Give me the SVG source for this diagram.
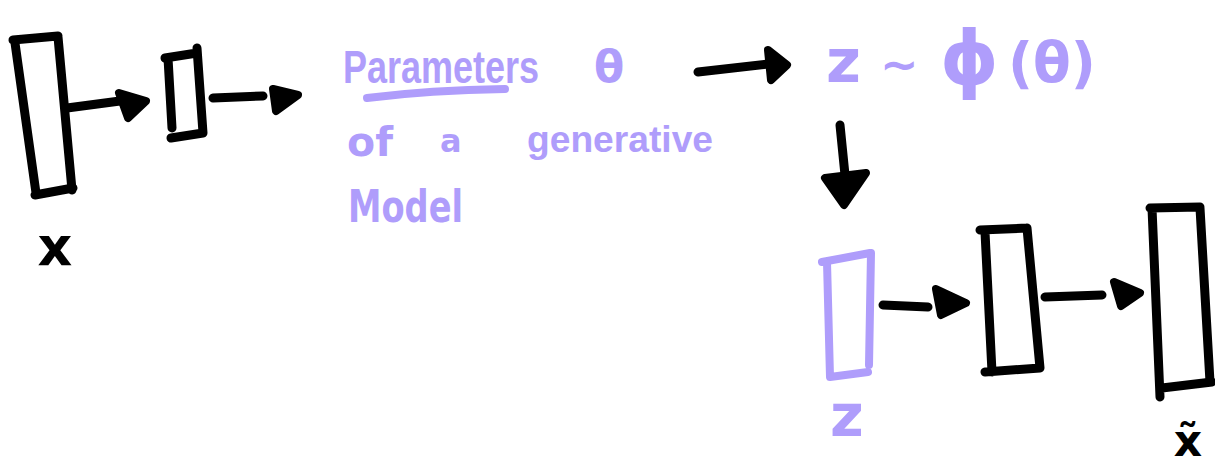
<svg xmlns="http://www.w3.org/2000/svg" width="1215" height="467" viewBox="0 0 1215 467">
  <style>
    .ink { fill: none; stroke: #000; stroke-width: 9; stroke-linecap: round; stroke-linejoin: round; }
    .lav { fill: none; stroke: #AF9DFB; stroke-width: 8; stroke-linecap: round; stroke-linejoin: round; }
    .head { fill: #000; stroke: #000; stroke-width: 8; stroke-linejoin: round; }
    .lbl { font-family: "DejaVu Sans", "Liberation Sans", sans-serif; font-weight: bold; }
    .narrow { font-family: "Liberation Sans", "DejaVu Sans", sans-serif; font-weight: bold; }
    .purple { fill: #AF9DFB; }
    .black { fill: #000; }
  </style>
  <rect width="1215" height="467" fill="#fff"/>

  <!-- encoder input x -->
  <g id="input-x">
    <path class="ink" d="M13 40 L58 36 M15 43 L36 193 M58 37 L72 190 M35 195 L73 188"/>
    <text class="lbl black" x="55" y="265" font-size="54" text-anchor="middle">x</text>
  </g>

  <!-- encoder bottleneck -->
  <g id="encoder-code">
    <path class="ink" d="M165 58 L197 53 M168 58 L172 128 M197 48 L203 133 M171 138 L203 133"/>
  </g>

  <!-- parameter text -->
  <g id="parameters">
    <text class="narrow purple" transform="translate(343 83) scale(1 1.3)" x="0" y="0" font-size="36">Parameters</text>
    <text class="lbl purple" x="594" y="82" font-size="44">θ</text>
    <path class="lav" d="M367 98 Q430 90 505 89"/>
    <text class="lbl purple" x="347" y="156" font-size="40" textLength="46" lengthAdjust="spacingAndGlyphs">of</text>
    <text class="lbl purple" x="440" y="152" font-size="32">a</text>
    <text class="narrow purple" x="527" y="152" font-size="37" textLength="186" lengthAdjust="spacingAndGlyphs">generative</text>
    <text class="lbl purple" x="348" y="222" font-size="44" textLength="115" lengthAdjust="spacingAndGlyphs">Model</text>
  </g>

  <!-- sampling expression -->
  <g id="sample">
    <text class="lbl purple" x="826" y="82" font-size="60">z</text>
    <text class="lbl purple" x="880" y="80" font-size="46">~</text>
    <text class="lbl purple" x="940" y="84" font-size="74">ϕ</text>
    <text class="lbl purple" x="1008" y="82" font-size="56" textLength="88" lengthAdjust="spacingAndGlyphs">(θ)</text>
  </g>

  <!-- decoder latent z -->
  <g id="latent-z">
    <path class="lav" d="M822 262 L870 253 M827 262 L830 377 M871 253 L869 365 M830 377 L868 372"/>
    <text class="lbl purple" x="847" y="436" font-size="58" text-anchor="middle">z</text>
  </g>

  <!-- decoder hidden layer -->
  <g id="decoder-hidden">
    <path class="ink" d="M980 230 L1027 228 M985 232 L992 372 M1027 228 L1040 368 M985 372 L1040 368"/>
  </g>

  <!-- reconstruction x-tilde -->
  <g id="output-xtilde">
    <path class="ink" d="M1150 208 L1200 207 M1152 208 L1160 397 M1200 208 L1210 382 M1162 388 L1212 382"/>
    <text class="lbl black" x="1188" y="456" font-size="44" text-anchor="middle">x̃</text>
  </g>

  <!-- connectors -->
  <g id="connectors">
    <path class="ink" d="M67 108 L120 101"/>
    <polygon class="head" points="119,93 146,101 128,118"/>
    <path class="ink" d="M213 98 L263 96"/>
    <polygon class="head" points="273,89 298,95 276,111"/>
    <path class="ink" d="M698 72 L768 64"/>
    <polygon class="head" points="768,50 787,65 771,80"/>
    <path class="ink" d="M840 125 L845 175"/>
    <polygon class="head" points="825,178 866,173 844,205"/>
    <path class="ink" d="M883 305 L928 307"/>
    <polygon class="head" points="936,289 966,303 941,315"/>
    <path class="ink" d="M1045 297 L1102 295"/>
    <polygon class="head" points="1114,282 1140,293 1121,306"/>
  </g>
</svg>
